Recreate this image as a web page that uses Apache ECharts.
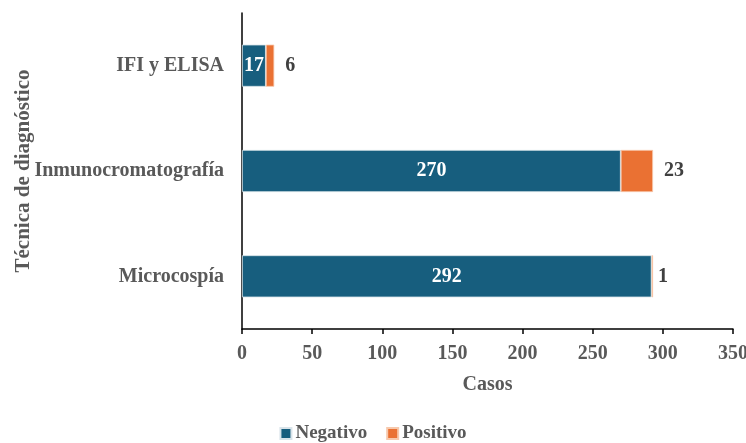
<!DOCTYPE html>
<html>
<head>
<meta charset="utf-8">
<script src="https://cdn.jsdelivr.net/npm/echarts@6/dist/echarts.min.js"></script>
<style>html,body{margin:0;padding:0;background:#fff}#chart{width:746px;height:443px}</style>
</head>
<body>
<div id="chart"></div>
<script>
// Diagnostic techniques, listed bottom to top
const categories = ['Microcospía', 'Inmunocromatografía', 'IFI y ELISA'];
const negativo = [292, 270, 17];
const positivo = [1, 23, 6];
const xTicks = { min: 0, max: 350, interval: 50 };

const FONT = '"Liberation Serif", "Times New Roman", serif';
const chart = echarts.init(document.getElementById('chart'));

chart.setOption({
  animation: false,
  textStyle: { fontFamily: FONT },
  grid: { left: 242, right: 13, top: 13, bottom: 114, outerBoundsMode: 'none', containLabel: false },
  legend: {
    bottom: -5,
    left: 'center',
    itemWidth: 11, itemHeight: 11, itemGap: 19,
    icon: 'rect',
    textStyle: { fontFamily: FONT, fontSize: 19, fontWeight: 'bold', color: '#595959', padding: [0, 0, 0, -1] },
    data: ['Negativo', 'Positivo']
  },
  xAxis: {
    type: 'value',
    min: xTicks.min, max: xTicks.max, interval: xTicks.interval,
    name: 'Casos', nameLocation: 'middle', nameGap: 46,
    nameTextStyle: { fontFamily: FONT, fontSize: 20, fontWeight: 'bold', color: '#595959' },
    axisLine: { show: true, lineStyle: { color: '#000', width: 1.5 } },
    axisTick: { show: true, length: 5, lineStyle: { color: '#000', width: 1.5 } },
    axisLabel: { fontFamily: FONT, fontSize: 20, fontWeight: 'bold', color: '#595959', margin: 15 },
    splitLine: { show: false }
  },
  yAxis: {
    type: 'category',
    data: categories,
    name: 'Técnica de diagnóstico', nameLocation: 'middle', nameGap: 208, nameRotate: 90,
    nameMoveOverlap: false,
    nameTextStyle: { fontFamily: FONT, fontSize: 21, fontWeight: 'bold', color: '#595959' },
    axisLine: { show: true, lineStyle: { color: '#000', width: 1.5 } },
    axisTick: { show: false },
    axisLabel: { fontFamily: FONT, fontSize: 20, fontWeight: 'bold', color: '#595959', margin: 18 }
  },
  series: [
    {
      name: 'Negativo', type: 'bar', stack: 'total', barWidth: '40%',
      data: negativo,
      itemStyle: { color: '#175e7e', borderColor: '#d9e4ea', borderWidth: 0.8 },
      label: { show: true, position: 'inside', fontFamily: FONT, fontSize: 20, fontWeight: 'bold', color: '#fff' }
    },
    {
      name: 'Positivo', type: 'bar', stack: 'total', barWidth: '40%',
      data: positivo.map((v, i) => ({
        value: v,
        label: { distance: v < 3 ? 5 : 11 }
      })),
      itemStyle: { color: '#ea7133', borderColor: '#f7c9ad', borderWidth: 0.8 },
      label: { show: true, position: 'right', fontFamily: FONT, fontSize: 20, fontWeight: 'bold', color: '#404040' }
    }
  ]
});
</script>
</body>
</html>
